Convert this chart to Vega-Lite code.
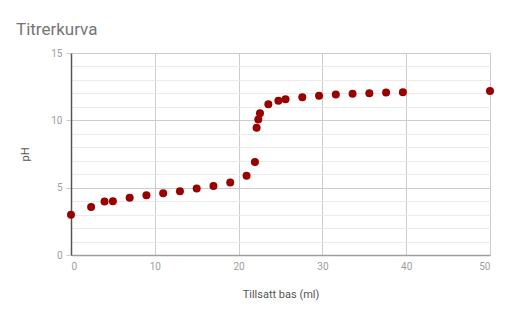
{
  "$schema": "https://vega.github.io/schema/vega-lite/v6.json",
  "width": 419,
  "height": 202,
  "autosize": {"type": "none"},
  "padding": {"left": 71, "top": 53, "right": 22, "bottom": 62},
  "background": "white",
  "config": {
    "font": "Roboto",
    "view": {"stroke": null}
  },
  "title": {
    "text": "Titrerkurva",
    "anchor": "start",
    "frame": "group",
    "dx": -55,
    "offset": 9,
    "fontSize": 17,
    "fontWeight": "normal",
    "color": "#757575",
    "font": "Roboto"
  },
  "data": {
    "values": [
      {"bas": 0, "pH": 2.98},
      {"bas": 2.4, "pH": 3.57},
      {"bas": 4.0, "pH": 3.97},
      {"bas": 5.0, "pH": 3.99},
      {"bas": 7.0, "pH": 4.26},
      {"bas": 9.0, "pH": 4.44},
      {"bas": 11.0, "pH": 4.59},
      {"bas": 13.0, "pH": 4.74},
      {"bas": 15.0, "pH": 4.93},
      {"bas": 17.0, "pH": 5.13},
      {"bas": 19.0, "pH": 5.38},
      {"bas": 20.95, "pH": 5.88},
      {"bas": 21.95, "pH": 6.9},
      {"bas": 22.15, "pH": 9.45},
      {"bas": 22.35, "pH": 10.06},
      {"bas": 22.55, "pH": 10.53},
      {"bas": 23.55, "pH": 11.2},
      {"bas": 24.75, "pH": 11.45},
      {"bas": 25.6, "pH": 11.57},
      {"bas": 27.6, "pH": 11.72},
      {"bas": 29.6, "pH": 11.82},
      {"bas": 31.6, "pH": 11.92},
      {"bas": 33.6, "pH": 11.97},
      {"bas": 35.6, "pH": 12.02},
      {"bas": 37.6, "pH": 12.07},
      {"bas": 39.6, "pH": 12.09},
      {"bas": 50, "pH": 12.17}
    ]
  },
  "mark": {"type": "point", "filled": true, "size": 64, "color": "#990000", "opacity": 1},
  "encoding": {
    "x": {
      "field": "bas",
      "type": "quantitative",
      "scale": {"domain": [0, 50], "nice": false},
      "axis": {
        "title": "Tillsatt bas (ml)",
        "values": [0, 10, 20, 30, 40, 50],
        "grid": true,
        "gridColor": "#cccccc",
        "domainColor": "#9e9e9e",
        "domainWidth": 1.5,
        "ticks": false,
        "labelPadding": 6,
        "labelFontSize": 10,
        "labelColor": "#9e9e9e",
        "titleFontSize": 11,
        "titleFontWeight": "normal",
        "titleColor": "#555555",
        "titlePadding": 17
      }
    },
    "y": {
      "field": "pH",
      "type": "quantitative",
      "scale": {"domain": [0, 15], "nice": false},
      "axis": {
        "title": "pH",
        "values": [0, 1, 2, 3, 4, 5, 6, 7, 8, 9, 10, 11, 12, 13, 14, 15],
        "labelExpr": "datum.value % 5 === 0 ? datum.label : ''",
        "grid": true,
        "gridColor": {"condition": {"test": "datum.value % 5 === 0", "value": "#cccccc"}, "value": "#ebebeb"},
        "tickColor": {"condition": {"test": "datum.value % 5 === 0", "value": "#cccccc"}, "value": "#ebebeb"},
        "tickOpacity": {"condition": {"test": "datum.value % 5 === 0", "value": 1}, "value": 0},
        "tickSize": 5,
        "domainColor": "#555555",
        "domainWidth": 1.5,
        "labelPadding": 4,
        "labelFontSize": 10,
        "labelColor": "#9e9e9e",
        "titleFontSize": 11,
        "titleFontWeight": "normal",
        "titleColor": "#555555",
        "titlePadding": 20
      }
    }
  }
}
